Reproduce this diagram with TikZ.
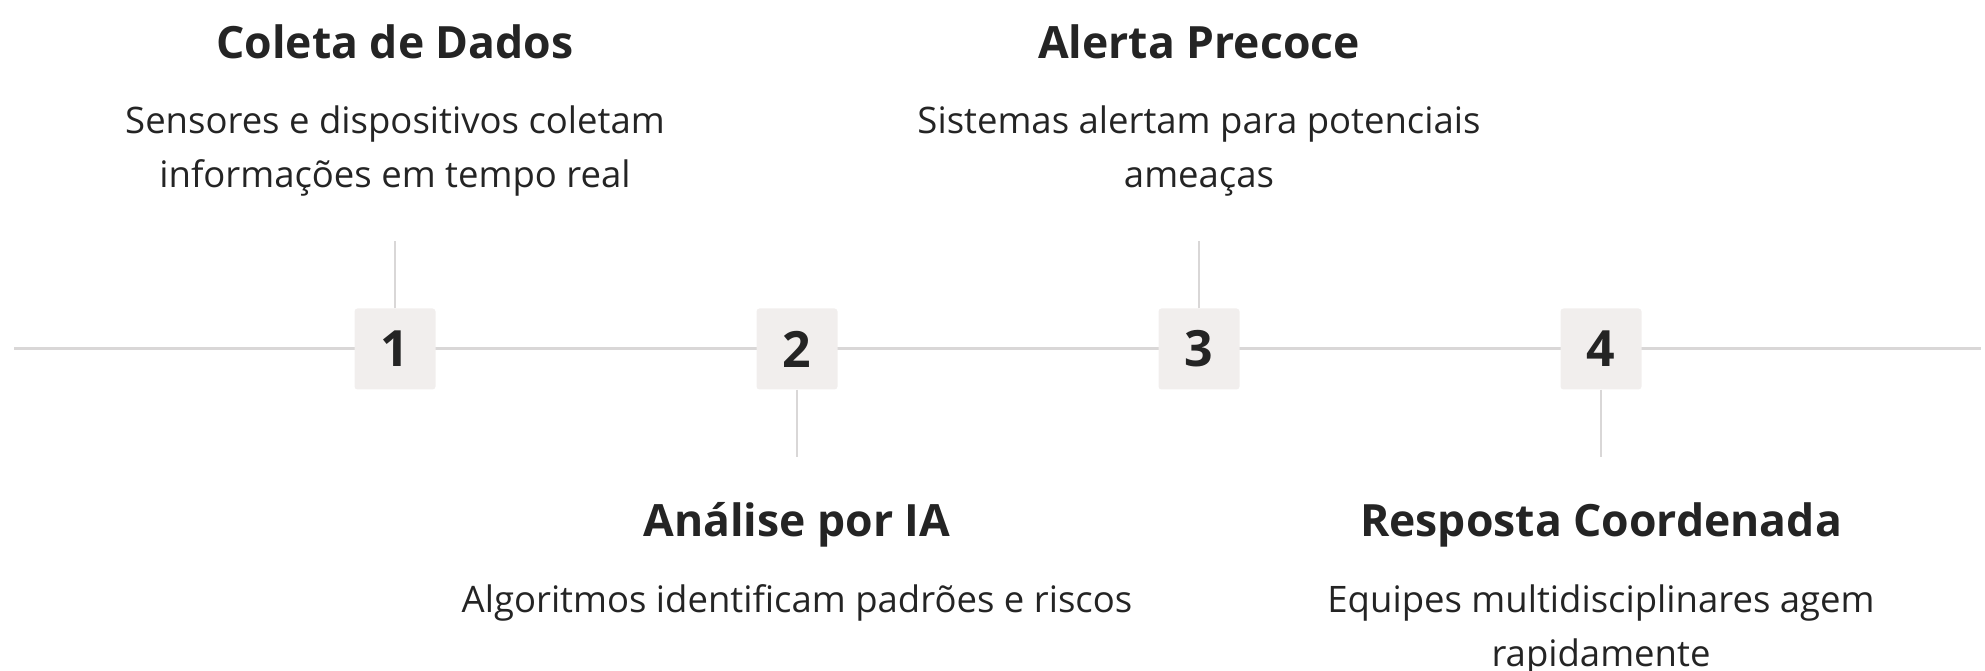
\documentclass[tikz,border=0pt]{standalone}
\usepackage{fontspec}
\setmainfont{Open Sans}
\usetikzlibrary{positioning}
\definecolor{ink}{HTML}{242424}
\definecolor{boxfill}{HTML}{F1EEED}
\definecolor{rulegray}{HTML}{D9D7D7}
\tikzstyle{numbox} = [rectangle, rounded corners=3pt, minimum width=81pt, minimum height=81pt, fill=boxfill, text=ink, font=\fontsize{50}{56}\selectfont\bfseries]
\tikzstyle{heading} = [anchor=base, text=ink, font=\fontsize{44.5}{50}\selectfont\bfseries, inner sep=0pt]
\tikzstyle{desc} = [anchor=base, text=ink, align=center, font=\fontsize{36.5}{54.5}\selectfont, inner sep=0pt]
\tikzstyle{line} = [line width=3pt, draw=rulegray]
\tikzstyle{stem} = [line width=2.5pt, draw=rulegray]

\begin{document}
\begin{tikzpicture}[x=1pt, y=1pt, node distance=402pt]
  \useasboundingbox (0,0) rectangle (1985,671);
  \coordinate (lineL) at (14,322);
  \coordinate (lineR) at (1981,322);
  \draw [line] (lineL) -- (lineR);

  \node (num1) [numbox] at (395,322) {1};
  \node (num2) [numbox, right of=num1] {2};
  \node (num3) [numbox, right of=num2] {3};
  \node (num4) [numbox, right of=num3] {4};

  \coordinate (stem1) at (395,430);
  \coordinate (stem2) at (797,214);
  \coordinate (stem3) at (1199,430);
  \coordinate (stem4) at (1601,214);
  \draw [stem] (num1.north) -- (stem1);
  \draw [stem] (num2.south) -- (stem2);
  \draw [stem] (num3.north) -- (stem3);
  \draw [stem] (num4.south) -- (stem4);

  % the base anchor of a two-line text sits on its last line
  \node (title1) [heading] at (395,612) {Coleta de Dados};
  \node (desc1) [desc] at (395,483) {Sensores e dispositivos coletam\\informações em tempo real};
  \node (title2) [heading] at (797,134) {Análise por IA};
  \node (desc2) [desc] at (797,58) {Algoritmos identificam padrões e riscos};
  \node (title3) [heading] at (1199,612) {Alerta Precoce};
  \node (desc3) [desc] at (1199,483) {Sistemas alertam para potenciais\\ameaças};
  \node (title4) [heading] at (1601,134) {Resposta Coordenada};
  \node (desc4) [desc] at (1601,4) {Equipes multidisciplinares agem\\rapidamente};
\end{tikzpicture}
\end{document}
